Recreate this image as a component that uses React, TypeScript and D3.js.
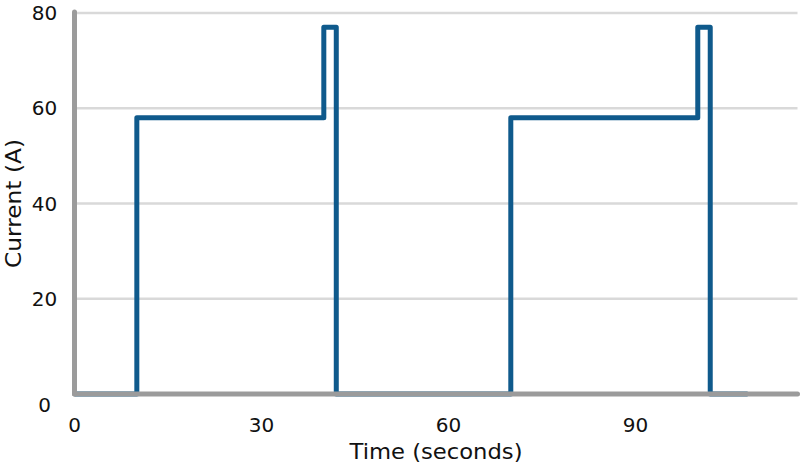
import React from "react";
import * as d3 from "d3";

const timeSeconds = [0, 10, 10, 40, 40, 42, 42, 70, 70, 100, 100, 102, 102, 108];
const currentAmps = [0, 0, 58, 58, 77, 77, 0, 0, 58, 58, 77, 77, 0, 0];
const yTicks = [0, 20, 40, 60, 80];
const xTicks = [0, 30, 60, 90];
const xLabel = "Time (seconds)";
const yLabel = "Current (A)";

const W = 801;
const H = 465;
const FONT = "'DejaVu Sans', sans-serif";

export default function App() {
  const x = d3.scaleLinear().domain([0, 116]).range([74.5, 797.5]);
  const y = d3.scaleLinear().domain([0, 80]).range([394, 13]);
  const pts = timeSeconds.map((t, i) => [t, currentAmps[i]] as [number, number]);
  const line = d3
    .line<[number, number]>()
    .x((d) => x(d[0]))
    .y((d) => y(d[1]));

  return (
    <svg
      width={W}
      height={H}
      style={{ position: "absolute", left: 0, top: 0, background: "#fff" }}
      fontFamily={FONT}
    >
      {yTicks
        .filter((t) => t > 0)
        .map((t) => (
          <line key={t} x1={x(0)} x2={x(116)} y1={y(t)} y2={y(t)} stroke="#d9d9d9" strokeWidth={2.5} />
        ))}
      <path d={line(pts) || ""} fill="none" stroke="#0f5a8c" strokeWidth={5} strokeLinejoin="round" />
      <line x1={x(0)} x2={x(116)} y1={y(0)} y2={y(0)} stroke="#9b9b9b" strokeWidth={5} strokeLinecap="round" />
      <line x1={x(0)} x2={x(0)} y1={y(80) - 1} y2={y(0)} stroke="#9b9b9b" strokeWidth={5} strokeLinecap="round" />
      {yTicks.map((t) => (
        <text
          key={t}
          x={44.5}
          y={y(t) + (t === 0 ? 10.5 : 0)}
          textAnchor="middle"
          dominantBaseline="central"
          fontSize={20}
          fill="#111"
        >
          {t}
        </text>
      ))}
      {xTicks.map((t) => (
        <text key={t} x={x(t)} y={432} textAnchor="middle" fontSize={20} fill="#111">
          {t}
        </text>
      ))}
      <text
        x={(x(0) + x(116)) / 2}
        y={459}
        textAnchor="middle"
        fontSize={21}
        fill="#111"
        textLength={173}
        lengthAdjust="spacingAndGlyphs"
      >
        {xLabel}
      </text>
      <text
        transform={`translate(21, ${(y(0) + y(80)) / 2}) rotate(-90)`}
        textAnchor="middle"
        fontSize={21}
        fill="#111"
        textLength={129}
        lengthAdjust="spacingAndGlyphs"
      >
        {yLabel}
      </text>
    </svg>
  );
}
